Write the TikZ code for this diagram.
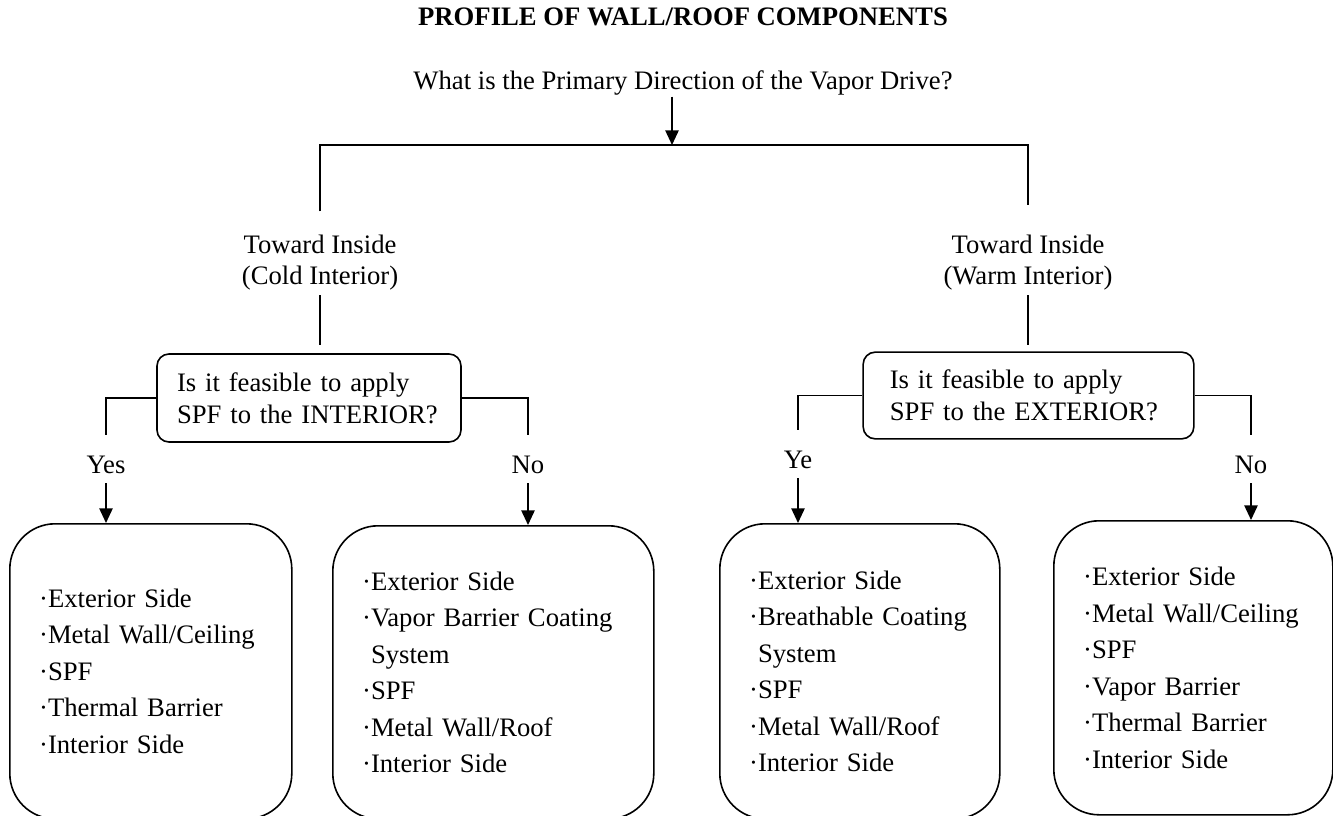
\documentclass[tikz,border=0pt]{standalone}
\usepackage{fontspec}
\setmainfont{Liberation Serif}
\usetikzlibrary{arrows.meta}

\tikzset{
  lbl/.style={inner sep=0pt, font=\fontsize{20}{23.25}\selectfont},
  question/.style={draw, rounded corners=9pt, align=left, inner xsep=15pt, inner ysep=0pt, minimum height=66pt, font=\fontsize{20}{24}\selectfont},
  layers/.style={draw, rounded corners=34pt, anchor=north west, align=left, inner xsep=22pt, inner ysep=0pt, font=\fontsize{20}{27.4}\selectfont},
  tip/.style={-{Triangle[length=11pt,width=10pt]}}
}

\begin{document}
\begin{tikzpicture}[x=0.75pt, y=-0.75pt, line width=1.2pt]
			\useasboundingbox (0,0) rectangle (1333,816);
			% heading
			\node[lbl, font=\bfseries\fontsize{20}{23}\selectfont, anchor=base] (title) at (683,26) {PROFILE OF WALL/ROOF COMPONENTS};
			\node[lbl, anchor=base] (drive) at (683,90) {What is the Primary Direction of the Vapor Drive?};
			\coordinate (bus) at (672,145); % split
			
			% vapor drive
			\node[lbl, align=center, anchor=north] (cold) at (320,234) {Toward Inside\\(Cold Interior)};
			\node[lbl, align=center, anchor=north] (warm) at (1028,234) {Toward Inside\\(Warm Interior)};
			
			% questions
			\node[question, text width=198pt] (qint) at (309,398) {Is it feasible to apply\\SPF to the INTERIOR?};
			\node[question, inner xsep=20pt, text width=208pt, minimum height=65pt] (qext) at (1028.5,395.5) {Is it feasible to apply\\SPF to the EXTERIOR?};
			
			% answers
			\node[lbl, anchor=base] (yesI) at (106,473) {Yes};
			\node[lbl, anchor=base] (noI) at (528,473) {No};
			\node[lbl, anchor=base] (yesE) at (798,468) {Ye};
			\node[lbl, anchor=base] (noE) at (1251,473) {No};
			
			% profiles
			\node[layers, text width=167.5pt, minimum height=221.25pt] (pYI) at (9,523) {·Exterior Side\\·Metal Wall/Ceiling\\·SPF\\·Thermal Barrier\\·Interior Side};
			\node[layers, text width=196.75pt, minimum height=219.75pt] (pNI) at (332,525) {·Exterior Side\\·Vapor Barrier Coating\\\phantom{·}System\\·SPF\\·Metal Wall/Roof\\·Interior Side};
			\node[layers, text width=166pt, minimum height=221.25pt] (pYE) at (719,523) {·Exterior Side\\·Breathable Coating\\\phantom{·}System\\·SPF\\·Metal Wall/Roof\\·Interior Side};
			\node[layers, text width=165.25pt, minimum height=220.5pt] (pNE) at (1053,520) {·Exterior Side\\·Metal Wall/Ceiling\\·SPF\\·Vapor Barrier\\·Thermal Barrier\\·Interior Side};
			
			% DRAW TREE
			\draw[tip] (drive.south -| bus) -- (bus);
			\draw[shorten <=17pt, shorten >=22pt] (cold.north) |- (bus) -| (warm.north);
			\draw[shorten <=3.5pt, shorten >=6pt] (cold.south) -- (cold.south |- qint.north);
			\draw[shorten <=3.5pt, shorten >=4.5pt] (warm.south) -- (warm.south |- qext.north);
			\draw[shorten >=15pt] (qint.west) -| (yesI.north); \draw[shorten >=15pt] (qint.east) -| (noI.north);
			\draw[shorten >=15pt] (qext.west) -| (yesE.north); \draw[shorten >=15pt] (qext.east) -| (noE.north);
			
			% DRAW ARROWS
			\draw[tip, shorten <=7pt] (yesI.south) -- (yesI.south |- pYI.north);
			\draw[tip, shorten <=7pt] (noI.south) -- (noI.south |- pNI.north);
			\draw[tip, shorten <=7pt] (yesE.south) -- (yesE.south |- pYE.north);
			\draw[tip, shorten <=7pt] (noE.south) -- (noE.south |- pNE.north);
		\end{tikzpicture}
\end{document}
